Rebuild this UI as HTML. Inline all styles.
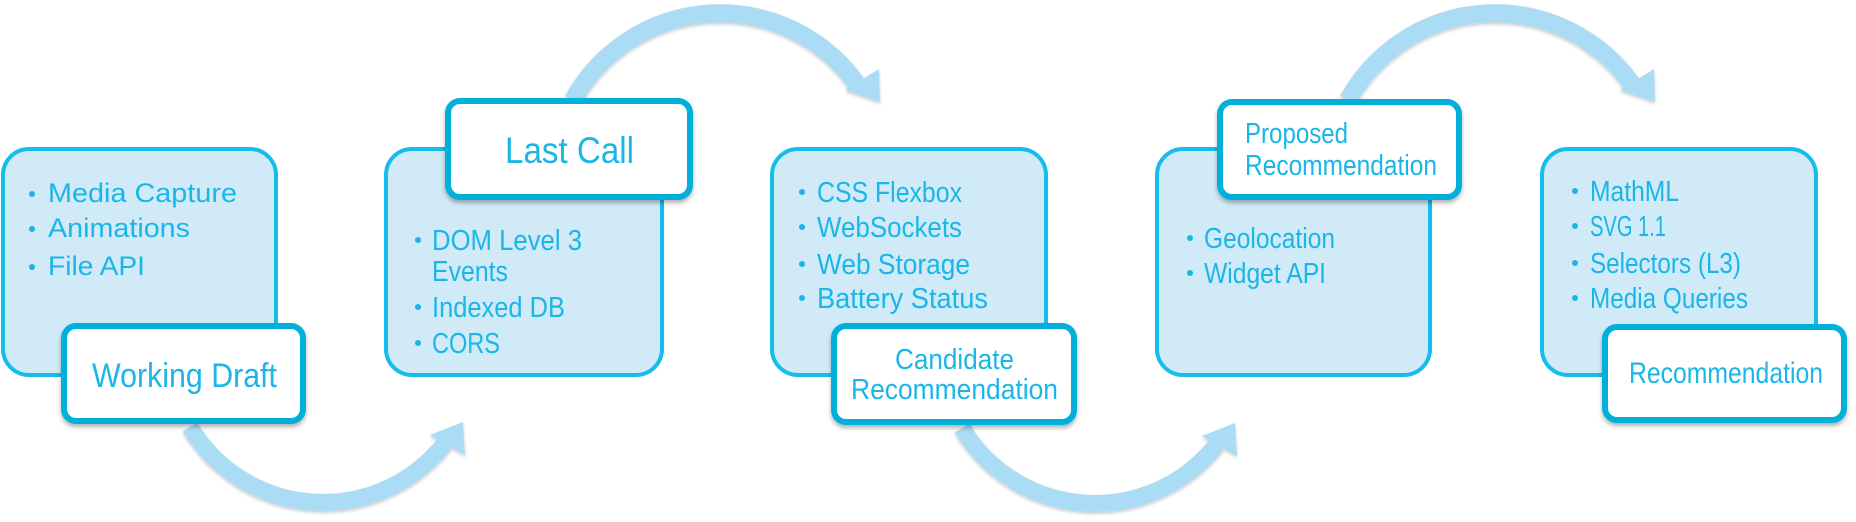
<!DOCTYPE html>
<html><head><meta charset="utf-8"><style>
html,body{margin:0;padding:0;background:#fff;}
svg{display:block}
text{font-family:"Liberation Sans",Arial,sans-serif;fill:#1ab6e8;}
</style></head><body>
<svg width="1856" height="522" viewBox="0 0 1856 522" xmlns="http://www.w3.org/2000/svg">
<defs>
<filter id="sh" x="-10%" y="-10%" width="120%" height="130%">
<feDropShadow dx="0" dy="3" stdDeviation="2" flood-color="#000" flood-opacity="0.3"/>
</filter>
<filter id="ash" x="-10%" y="-10%" width="120%" height="130%">
<feDropShadow dx="0" dy="2" stdDeviation="1.5" flood-color="#000" flood-opacity="0.2"/>
</filter>
<g id="up">
<path d="M573,100 A168,168 0 0 1 857,84" fill="none" stroke="#aadcf6" stroke-width="18"/>
<polygon points="845,90 879,69 880,102" fill="#aadcf6"/>
</g>
<g id="down">
<path d="M190,427 A155,155 0 0 0 445,443" fill="none" stroke="#aadcf6" stroke-width="17"/>
<polygon points="430,435 463,422 465,455" fill="#aadcf6"/>
</g>
</defs>

<!-- arrows -->
<g filter="url(#ash)">
<use href="#down"/>
<use href="#up"/>
<use href="#down" transform="translate(772,1)"/>
<use href="#up" transform="translate(775,0)"/>
</g>

<!-- big boxes -->
<g fill="#d0eaf8" stroke="#14bdea" stroke-width="4">
<rect x="3" y="149" width="273" height="226" rx="26"/>
<rect x="386" y="149" width="276" height="226" rx="26"/>
<rect x="772" y="149" width="274" height="226" rx="26"/>
<rect x="1157" y="149" width="273" height="226" rx="26"/>
<rect x="1542" y="149" width="274" height="226" rx="26"/>
</g>

<!-- bullets -->
<g fill="#1ab6e8">
<circle cx="32" cy="194" r="3"/><circle cx="32" cy="229" r="3"/><circle cx="32" cy="267" r="3"/>
<circle cx="418" cy="240" r="3"/><circle cx="418" cy="307" r="3"/><circle cx="418" cy="343" r="3"/>
<circle cx="802" cy="192" r="3"/><circle cx="802" cy="227" r="3"/><circle cx="802" cy="264" r="3"/><circle cx="802" cy="298" r="3"/>
<circle cx="1190" cy="238" r="3"/><circle cx="1190" cy="273" r="3"/>
<circle cx="1575" cy="191" r="3"/><circle cx="1575" cy="226" r="3"/><circle cx="1575" cy="263" r="3"/><circle cx="1575" cy="298" r="3"/>
</g>

<!-- items -->
<g font-size="27">
<text x="48" y="202" textLength="189" lengthAdjust="spacingAndGlyphs">Media Capture</text>
<text x="48" y="237" textLength="142" lengthAdjust="spacingAndGlyphs">Animations</text>
<text x="48" y="275" textLength="97" lengthAdjust="spacingAndGlyphs">File API</text>
</g>
<g font-size="29">
<text x="432" y="250" textLength="150" lengthAdjust="spacingAndGlyphs">DOM Level 3</text>
<text x="432" y="281" textLength="76" lengthAdjust="spacingAndGlyphs">Events</text>
<text x="432" y="317" textLength="133" lengthAdjust="spacingAndGlyphs">Indexed DB</text>
<text x="432" y="353" textLength="68" lengthAdjust="spacingAndGlyphs">CORS</text>

<text x="817" y="202" textLength="145" lengthAdjust="spacingAndGlyphs">CSS Flexbox</text>
<text x="817" y="237" textLength="145" lengthAdjust="spacingAndGlyphs">WebSockets</text>
<text x="817" y="274" textLength="153" lengthAdjust="spacingAndGlyphs">Web Storage</text>
<text x="817" y="308" textLength="171" lengthAdjust="spacingAndGlyphs">Battery Status</text>

<text x="1204" y="248" textLength="131" lengthAdjust="spacingAndGlyphs">Geolocation</text>
<text x="1204" y="283" textLength="122" lengthAdjust="spacingAndGlyphs">Widget API</text>

<text x="1590" y="201" textLength="89" lengthAdjust="spacingAndGlyphs">MathML</text>
<text x="1590" y="236" textLength="76" lengthAdjust="spacingAndGlyphs">SVG 1.1</text>
<text x="1590" y="273" textLength="151" lengthAdjust="spacingAndGlyphs">Selectors (L3)</text>
<text x="1590" y="308" textLength="158" lengthAdjust="spacingAndGlyphs">Media Queries</text>
</g>

<!-- label boxes -->
<g fill="#ffffff" stroke="#02b0da" stroke-width="6" filter="url(#sh)">
<rect x="64" y="326" width="239" height="95" rx="12"/>
<rect x="448" y="101" width="242" height="96" rx="12"/>
<rect x="834" y="326" width="240" height="96" rx="12"/>
<rect x="1220" y="102" width="239" height="95" rx="12"/>
<rect x="1605" y="327" width="239" height="93" rx="12"/>
</g>

<text x="92" y="387" font-size="34" textLength="185" lengthAdjust="spacingAndGlyphs">Working Draft</text>
<text x="505" y="163" font-size="37" textLength="129" lengthAdjust="spacingAndGlyphs">Last Call</text>
<text x="895" y="369" font-size="29" textLength="119" lengthAdjust="spacingAndGlyphs">Candidate</text>
<text x="851" y="399" font-size="29" textLength="207" lengthAdjust="spacingAndGlyphs">Recommendation</text>
<text x="1245" y="143" font-size="29" textLength="103" lengthAdjust="spacingAndGlyphs">Proposed</text>
<text x="1245" y="175" font-size="29" textLength="192" lengthAdjust="spacingAndGlyphs">Recommendation</text>
<text x="1629" y="383" font-size="30" textLength="194" lengthAdjust="spacingAndGlyphs">Recommendation</text>
</svg>
</body></html>
